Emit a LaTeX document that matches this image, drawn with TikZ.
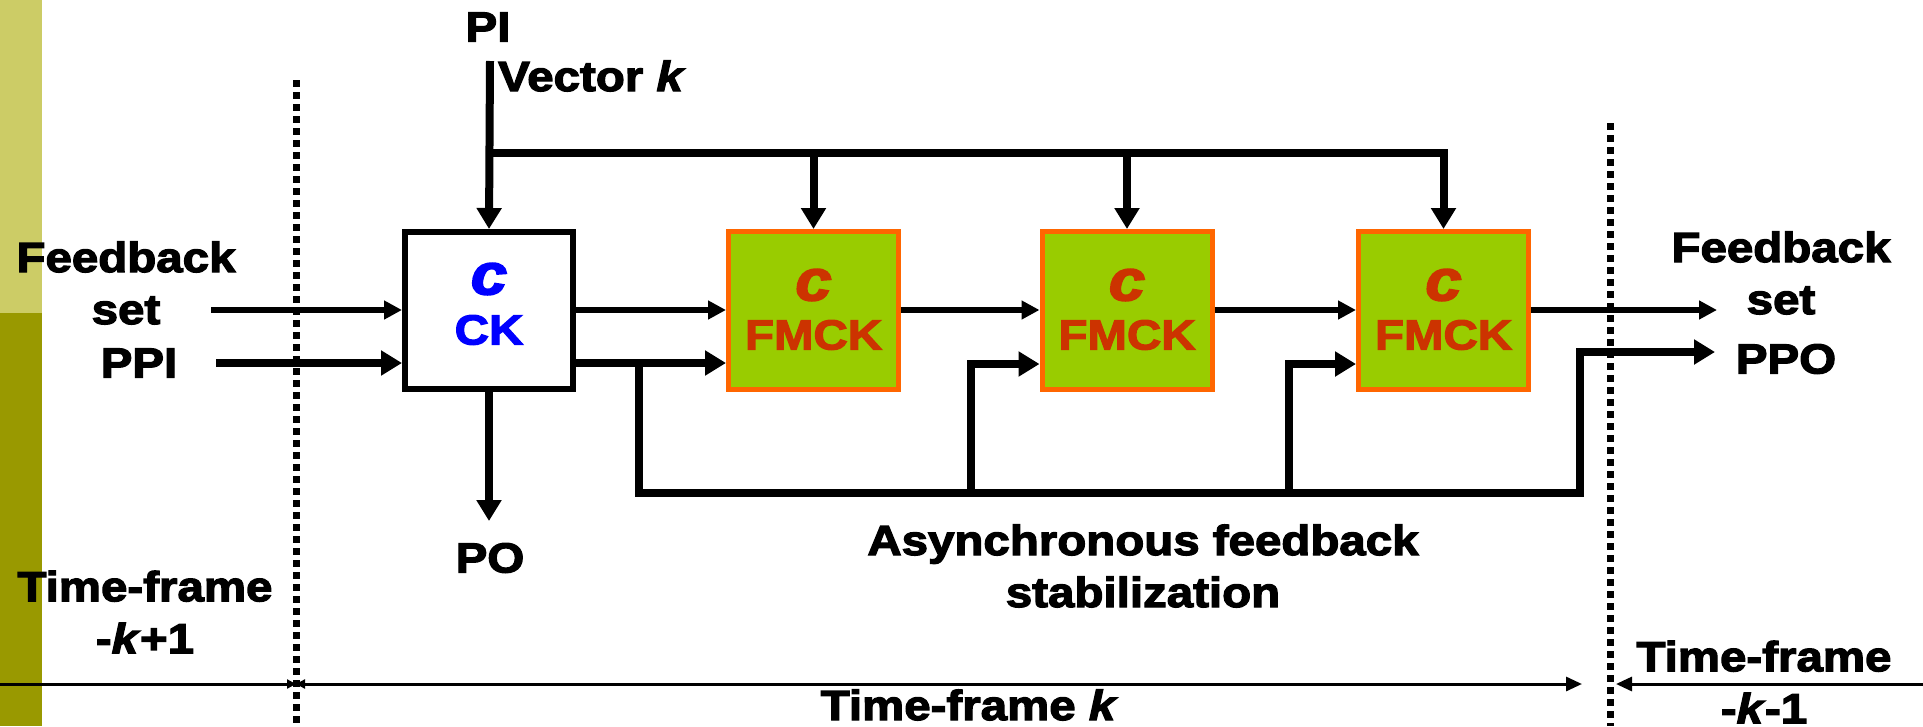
\documentclass[tikz,border=0pt]{standalone}
\usepackage{fontspec}
\newfontfamily\lab{Liberation Sans}[FakeStretch=1.13, FakeBold=3]
\usetikzlibrary{arrows.meta}
\definecolor{barlight}{RGB}{204,204,102}
\definecolor{bardark}{RGB}{153,153,0}
\definecolor{boxfill}{RGB}{153,204,0}
\definecolor{boxedge}{RGB}{255,102,0}
\definecolor{fmtext}{RGB}{204,51,0}
\definecolor{cktext}{RGB}{0,0,255}
\begin{document}
\begin{tikzpicture}[x=1pt,y=-1pt,
  lbl/.style={font=\lab\bfseries\fontsize{42}{52}\selectfont, inner sep=0pt, align=center},
  ctext/.style={font=\lab\bfseries\itshape\fontsize{58}{60}\selectfont, inner sep=0pt},
  ckbox/.style={draw=black, fill=white, line width=6pt, minimum width=168pt, minimum height=157pt, inner sep=0pt},
  fmbox/.style={draw=boxedge, fill=boxfill, line width=5pt, minimum width=170pt, minimum height=158pt, inner sep=0pt},
  wsm/.style={line width=6pt, -{Triangle[length=18pt,width=18pt]}},
  wbg/.style={line width=8pt, -{Triangle[length=21pt,width=24pt]}},
  framesep/.style={line width=7pt, dash pattern=on 7pt off 5pt},
  axis/.style={line width=3pt},
]
\useasboundingbox (0,0) rectangle (1923,726);

% side bar
\fill[barlight] (0,0) rectangle (42,313);
\fill[bardark] (0,313) rectangle (42,726);

% time-frame boundaries
\coordinate (dlt) at (296,80);
\coordinate (dlb) at (296,726);
\coordinate (drt) at (1610,123);
\coordinate (drb) at (1610,726);
\draw[framesep] (dlt) -- (dlb);
\draw[framesep] (drt) -- (drb);

% blocks
\node[ckbox] (ck) at (489,310.5) {};
\node[fmbox] (f1) at (813.5,310.5) {};
\node[fmbox] (f2) at (1127,310.5) {};
\node[fmbox] (f3) at (1443.5,310.5) {};

\node[ctext, text=cktext] (ckc) at ([yshift=31.5pt]ck.center) {c};
\node[lbl, text=cktext] (ckn) at ([yshift=-19.5pt]ck.center) {CK};
\foreach \b in {f1,f2,f3}{
  \node[ctext, text=fmtext] (\b c) at ([yshift=25.5pt]\b.center) {c};
  \node[lbl, text=fmtext] (\b n) at ([yshift=-24.5pt]\b.center) {FMCK};
}

% primary input vector bus
\coordinate (pitop) at (490,61);
\coordinate (busL) at (490,153);
\draw[wbg] (pitop) -- (ck.north);
\draw[wbg] (busL) -- (f3.north |- busL) -- (f3.north);
\draw[wbg] (f1.north |- busL) -- (f1.north);
\draw[wbg] (f2.north |- busL) -- (f2.north);

% feedback set and pseudo primary inputs
\coordinate (fbL) at (211,310);
\coordinate (ppiL) at (216,363);
\draw[wsm] (fbL) -- (fbL -| ck.west);
\draw[wbg] (ppiL) -- (ppiL -| ck.west);
\draw[wsm] (ck.east |- fbL) -- (f1.west |- fbL);
\draw[wbg] (ck.east |- ppiL) -- (f1.west |- ppiL);
\draw[wsm] (f1.east |- fbL) -- (f2.west |- fbL);
\draw[wsm] (f2.east |- fbL) -- (f3.west |- fbL);
\coordinate (fbR) at (1717,310);
\draw[wsm] (f3.east |- fbL) -- (fbR);

% primary outputs
\coordinate (poend) at (493,521);
\draw[wbg] (ck.south) -- (ck.south |- poend);

% asynchronous feedback loop
\coordinate (tapA) at (639,363);
\coordinate (loopBL) at (639,493);
\coordinate (loopBR) at (1580,493);
\coordinate (ppoR) at (1715,352);
\draw[wbg] (tapA) -- (loopBL) -- (loopBR) -- (loopBR |- ppoR) -- (ppoR);
\coordinate (br2) at (971,493);
\coordinate (lo2) at (971,364);
\draw[wbg] (br2) -- (lo2) -- (lo2 -| f2.west);
\coordinate (br3) at (1289,493);
\coordinate (lo3) at (1289,364);
\draw[wbg] (br3) -- (lo3) -- (lo3 -| f3.west);

% time axis
\coordinate (axL) at (0,684);
\coordinate (axM) at (296,684);
\coordinate (axE) at (1582,684);
\coordinate (axR) at (1923,684);
\coordinate (axRE) at (1616,684);
\draw[axis, -{Triangle[length=9pt,width=9pt]}] (axL) -- (axM);
\draw[axis, {Triangle[length=9pt,width=9pt]}-{Triangle[length=16pt,width=14pt]}] (axM) -- (axE);
\draw[axis, -{Triangle[length=16pt,width=14pt]}] (axR) -- (axRE);

% labels
\node[lbl] (pi) at (488,27) {PI};
\node[lbl, anchor=west] (vec) at (498,76) {Vector \textit{k}};
\node[lbl] (fbl) at (126,283) {Feedback\\set};
\node[lbl] (ppi) at (139,363) {PPI};
\node[lbl] (fbr) at (1781,273) {Feedback\\set};
\node[lbl] (ppo) at (1786,359) {PPO};
\node[lbl] (polbl) at (490,558) {PO};
\node[lbl] (async) at (1143,566) {Asynchronous feedback\\stabilization};
\node[lbl] (tfl) at (145,612) {Time-frame\\-\textit{k}+1};
\node[lbl] (tfk) at (969,705) {Time-frame \textit{k}};
\node[lbl] (tfr) at (1764,682) {Time-frame\\-\textit{k}-1};
\end{tikzpicture}
\end{document}
